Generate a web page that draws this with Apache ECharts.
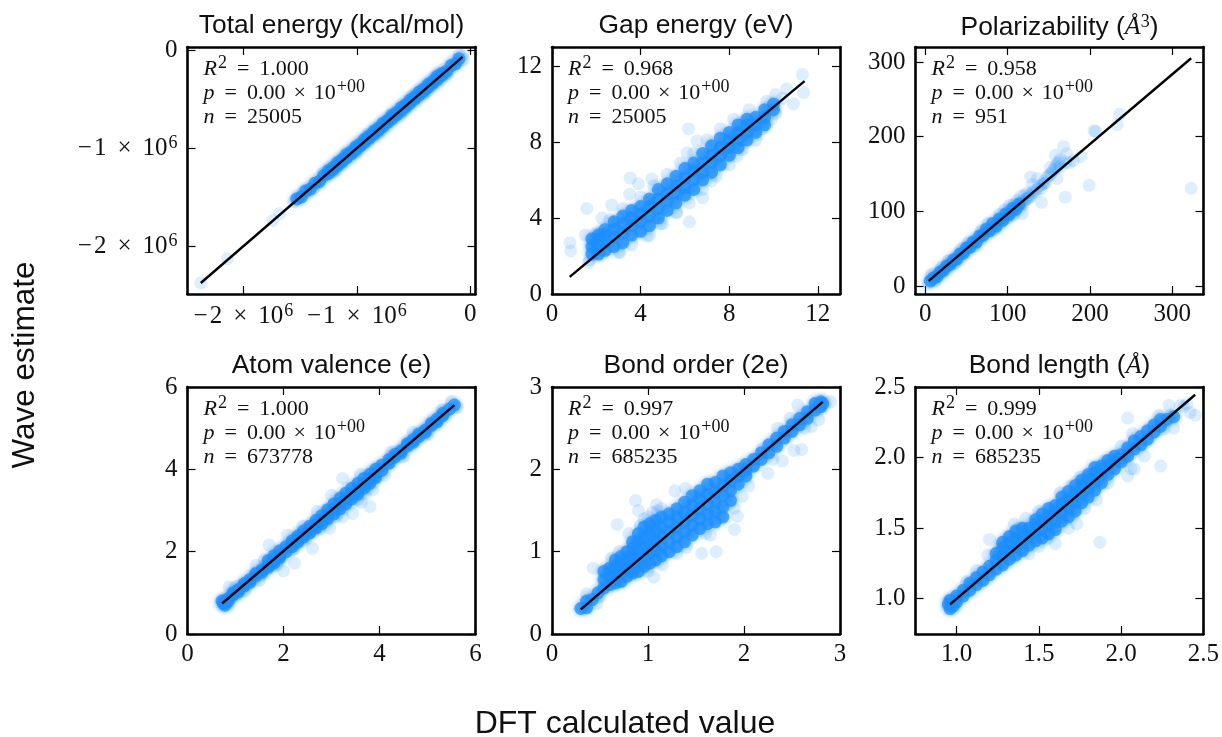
<!DOCTYPE html>
<html><head><meta charset="utf-8">
<style>html,body{margin:0;padding:0;background:#fff}#c{width:1222px;height:737px}</style>
<script src="https://cdn.jsdelivr.net/npm/echarts@6/dist/echarts.min.js"></script>
</head><body><div id="c"></div>
<script>
// Values. Dense rows: [x, y1, y2, ...]; sparse: [x, y]
const energyFit = [[-2.376,-2.378],[-0.068,-0.07]];
const energyDense = [[-1.53,-1.52],[-1.49,-1.5],[-1.45,-1.44],[-1.41,-1.42],[-1.37,-1.36],[-1.33,-1.34],[-1.29,-1.28],[-1.25,-1.26,-1.23],[-1.21,-1.2,-1.22],[-1.17,-1.18,-1.15],[-1.13,-1.12,-1.14],[-1.09,-1.1,-1.07],[-1.05,-1.04,-1.06],[-1.01,-1.02,-0.99],[-0.97,-0.96,-0.98],[-0.93,-0.94,-0.91],[-0.89,-0.88,-0.9],[-0.85,-0.86,-0.83],[-0.81,-0.8,-0.82],[-0.77,-0.78,-0.75],[-0.73,-0.72,-0.74],[-0.69,-0.7,-0.67],[-0.65,-0.64,-0.66],[-0.61,-0.62,-0.59],[-0.57,-0.56,-0.58],[-0.53,-0.54,-0.51],[-0.49,-0.48,-0.5],[-0.45,-0.46,-0.43],[-0.41,-0.4,-0.42],[-0.37,-0.38,-0.35],[-0.33,-0.32,-0.34],[-0.29,-0.3,-0.27],[-0.25,-0.24,-0.26],[-0.21,-0.22],[-0.17,-0.16],[-0.13,-0.14],[-0.1,-0.09]];
const energySparse = [[-2.376,-2.378],[-2.14,-2.13],[-1.74,-1.74],[-1.68,-1.67],[-1.52,-1.51],[-1.56,-1.55],[-1.47,-1.44],[-1.38,-1.41],[-1.3,-1.26],[-1.2,-1.24],[-1.1,-1.06],[-1.0,-1.04],[-0.9,-0.86],[-0.8,-0.84],[-0.7,-0.66],[-0.6,-0.64],[-0.5,-0.46],[-0.4,-0.44],[-0.3,-0.26],[-0.2,-0.24],[-0.1,-0.05],[-0.06,-0.1],[-0.07,-0.06]];

const gapFit = [[0.8,0.9],[11.4,11.2]];
const gapDense = [[1.8,2.1,2.5,2.9],[2.1,2.1,2.5,2.9,3.1],[2.4,2.3,2.7,3.1,3.4],[2.8,2.5,3.0,3.4,3.8],[3.2,2.7,3.2,3.7,4.1],[3.6,3.1,3.6,4.0,4.4],[4.0,3.3,3.8,4.2,4.6],[4.4,3.6,4.1,4.6,5.0],[4.8,4.0,4.5,5.0,5.5],[5.2,4.4,4.9,5.3,5.8],[5.6,4.8,5.3,5.7,6.2],[6.0,5.2,5.6,6.1,6.6],[6.4,5.5,6.0,6.5,6.9],[6.8,6.0,6.4,6.9,7.4],[7.2,6.4,6.9,7.3,7.8],[7.6,6.8,7.3,7.7,8.2],[8.0,7.3,7.7,8.1,8.5],[8.4,7.7,8.1,8.5,8.9],[8.8,8.1,8.5,8.9,9.2],[9.2,8.5,8.9,9.3],[9.6,8.9,9.3,9.7],[10,9.7,10.0]];
const gapSparse = [[0.81,2.7],[0.84,2.26],[1.5,3.1],[1.57,4.5],[2.7,4.68],[2.25,4.0],[3.53,6.1],[3.9,5.8],[3.5,5.25],[4.5,6.05],[6.16,8.7],[6.55,8.05],[6.1,7.44],[6.2,3.8],[6.8,5.07],[5.64,4.28],[4.9,3.7],[4.3,3.05],[3.07,2.17],[1.64,1.65],[11.3,11.55],[11.36,10.6],[10.9,10],[10.6,10.8],[10.1,10.5],[9.7,10.15],[10.1,9.5],[9.5,8.7],[8.35,7.26],[7.2,5.95],[2.6,3.9],[3.2,4.5],[4,5.1],[4.6,5.7],[5.2,6.3],[5.8,6.9],[6.4,7.4],[7,8.1],[7.6,8.7],[8.2,9.2],[8.9,9.7],[3,2.2],[3.6,2.6],[4.4,3.1],[5,3.7],[5.6,4.3],[6.2,4.8],[6.8,5.5],[7.4,6.2],[8,6.8],[8.6,7.6],[9.2,8.1],[2,3.2],[1.7,1.8],[10.4,10.3],[9.9,9.2]];

const polarFit = [[4,7],[323,305]];
const polarDense = [[6,7],[10,11],[14,13],[18,19],[22,21],[26,27],[30,29],[34,35],[38,36],[42,43],[46,44],[50,51],[54,52],[58,59],[62,59],[66,67],[70,68],[74,76],[78,74],[82,84],[86,80],[90,90],[94,88],[98,97],[102,96],[106,104],[110,103],[114,110]];
const polarSparse = [[128,146],[168,187],[158,175],[172,177],[189,173.6],[180,168],[160,164],[152,159],[160,144],[144,137],[136,144],[199,135],[170,119],[141,112],[118,97],[107,95],[205,208],[207,207],[233,216],[236,230],[323,131],[120,122],[124,125],[128,120],[132,128],[136,130],[140,130],[144,140],[148,146],[152,150],[156,156],[160,158],[164,160],[164,170],[170,165],[175,165],[118,112],[122,116],[116,120],[126,118],[130,136],[112,115],[108,110],[102,108],[96,102],[100,92],[90,96],[84,76],[76,84],[68,74],[60,54],[52,58],[44,50],[36,30],[28,34],[20,25],[12,7],[8,16],[4,4],[115,108],[118,114],[120,110],[124,118],[126,122],[130,125],[134,126],[138,134],[142,136],[146,138],[150,148],[154,152],[158,160],[162,166]];

const atomFit = [[0.72,0.74],[5.56,5.56]];
const atomDense = [[0.72,0.8],[0.75,0.75],[0.78,0.7],[0.85,0.86,0.8],[0.95,0.95,1.0],[1.06,1.08,1.02],[1.18,1.17,1.22],[1.3,1.32,1.26],[1.42,1.41,1.47],[1.55,1.56,1.5],[1.68,1.62,1.67,1.78],[1.8,1.72,1.78,1.9],[1.92,1.85,1.9,2.02],[2.05,2.0,2.12],[2.18,2.12,2.18,2.26],[2.3,2.24,2.3,2.38],[2.42,2.36,2.42,2.5],[2.55,2.46,2.54,2.62],[2.68,2.58,2.66,2.76],[2.8,2.68,2.77,2.87],[2.92,2.8,2.9,3.02],[3.05,2.92,3.04,3.16],[3.18,3.04,3.17,3.3],[3.3,3.16,3.28,3.42],[3.42,3.28,3.4,3.54],[3.55,3.4,3.52,3.66],[3.68,3.54,3.66,3.78],[3.8,3.66,3.78,3.88],[3.92,3.8,3.9,4.0],[4.05,3.98,4.1],[4.2,4.15,4.24],[4.32,4.3,4.36],[4.45,4.45,4.4],[4.58,4.57,4.62],[4.7,4.72,4.66],[4.82,4.8,4.86],[4.95,4.95,4.9],[5.08,5.07,5.12],[5.2,5.22,5.16],[5.32,5.31,5.36],[5.45,5.46],[5.56,5.56]];
const atomSparse = [[3.8,3.1],[3.62,3.2],[3.44,2.93],[3.23,2.85],[2.96,2.57],[2.6,2.08],[2.23,1.72],[2,1.53],[1.5,1.3],[1.7,2.16],[2.08,2.4],[1.43,1.67],[3.23,3.78],[3,3.37],[3.86,3.5],[0.87,1.15],[1.0,1.15],[1.2,1.05],[1.55,1.45],[1.85,1.68],[2.2,2.05],[2.45,2.3],[2.75,2.55],[3.1,2.85],[3.55,3.25],[3.7,3.4],[4.1,3.85],[4.5,4.3],[5.0,4.85],[5.3,5.45],[4.7,4.9],[4.25,4.42],[3.6,3.88],[2.7,2.98],[2.4,2.62],[1.6,1.8],[5.5,5.65],[5.62,5.5]];

const bondFit = [[0.3,0.3],[2.82,2.82]];
const bondDense = [[0.30,0.31],[0.36,0.32,0.40],[0.42,0.42],[0.48,0.50],[0.54,0.56,0.66,0.76],[0.60,0.60,0.70,0.80],[0.66,0.62,0.72,0.82,0.90],[0.72,0.64,0.74,0.84,0.94],[0.78,0.70,0.80,0.90,1.0],[0.84,0.74,0.84,0.94,1.04,1.12],[0.90,0.76,0.88,1.0,1.12,1.22],[0.96,0.82,0.94,1.06,1.18,1.30],[1.02,0.86,0.98,1.10,1.22,1.34],[1.08,0.90,1.02,1.14,1.26,1.38],[1.14,0.95,1.06,1.18,1.3,1.42],[1.22,1.0,1.12,1.24,1.36,1.46],[1.30,1.06,1.18,1.3,1.42,1.52],[1.38,1.12,1.24,1.36,1.48,1.6],[1.46,1.2,1.32,1.44,1.56,1.68],[1.54,1.28,1.4,1.52,1.64,1.74],[1.62,1.34,1.46,1.58,1.7,1.82],[1.70,1.36,1.48,1.6,1.72,1.84],[1.78,1.42,1.54,1.68,1.8,1.92],[1.86,1.62,1.74,1.86,1.96],[1.94,1.82,1.92,2.0],[2.02,1.92,2.0,2.06],[2.10,2.04,2.12],[2.18,2.12,2.2],[2.26,2.2,2.3],[2.34,2.28,2.38],[2.42,2.38,2.46],[2.50,2.46,2.54],[2.58,2.54,2.62],[2.66,2.62,2.7],[2.74,2.72,2.8],[2.80,2.76,2.82],[2.82,2.80]];
const bondSparse = [[0.43,0.8],[0.87,1.62],[0.9,1.5],[0.68,1.33],[0.8,1.22],[1.28,1.74],[1.39,1.77],[1.09,1.57],[1.56,0.98],[1.71,1.0],[1.06,0.69],[1.3,0.98],[1.98,1.67],[1.93,1.43],[1.9,1.27],[1.9,1.53],[1.65,1.2],[2.25,1.95],[2.4,2.1],[2.52,2.23],[2.6,2.24],[2.56,2.78],[2.78,2.6],[2.63,2.5],[2.19,2.25],[0.47,0.37],[0.36,0.49],[0.5,0.45],[0.62,0.92],[0.7,1.0],[1.0,0.76],[1.15,0.84],[1.4,1.05],[1.6,1.22],[2.05,1.8],[2.3,2.12],[2.7,2.52],[2.35,2.5],[2.48,2.62],[2.9,2.82],[0.96,1.4],[1.05,1.48],[1.14,1.52],[0.92,1.32],[1.0,1.42],[1.1,1.5]];

const lengthFit = [[0.96,0.96],[2.45,2.445]];
const lengthDense = [[0.95,0.96],[0.96,0.99,0.93],[0.98,0.95],[1.0,0.98,1.02],[1.04,1.02,1.06],[1.08,1.06,1.11],[1.12,1.1,1.15],[1.16,1.13,1.19],[1.2,1.17,1.23],[1.24,1.21,1.27,1.32],[1.28,1.24,1.3,1.36,1.4],[1.32,1.28,1.34,1.4,1.44],[1.36,1.31,1.37,1.43,1.48],[1.4,1.34,1.4,1.46,1.5],[1.44,1.38,1.44,1.5],[1.48,1.41,1.47,1.53,1.56],[1.52,1.43,1.49,1.55,1.6],[1.56,1.46,1.52,1.58,1.64],[1.6,1.49,1.55,1.61,1.66],[1.64,1.55,1.61,1.67,1.72],[1.68,1.58,1.64,1.7,1.76],[1.72,1.62,1.68,1.74,1.8],[1.76,1.68,1.74,1.8,1.84],[1.8,1.72,1.78,1.84,1.88],[1.84,1.77,1.83,1.89,1.93],[1.88,1.82,1.88,1.94],[1.92,1.88,1.94,1.98],[1.96,1.92,1.98,2.01],[2.0,1.97,2.02],[2.04,2.01,2.07],[2.08,2.06,2.12],[2.12,2.09,2.15],[2.16,2.13,2.19],[2.2,2.18,2.23],[2.24,2.22,2.27],[2.28,2.27],[2.32,2.29]];
const lengthSparse = [[2.04,2.28],[2.24,1.94],[1.87,1.4],[1.2,1.42],[2.45,2.3],[2.29,2.37],[2.38,2.36],[2.36,2.37],[2.32,2.21],[2.23,2.3],[2.07,2.17],[2.08,1.92],[2.04,1.87],[2.14,2.01],[1.6,1.39],[1.44,1.32],[1.35,1.53],[1.63,1.75],[1.73,1.53],[1.78,1.64],[1.19,1.31],[1.12,1.2],[1.06,1.12],[1.42,1.57],[1.7,1.8],[2.02,2.0],[2.06,1.92],[1.3,1.26],[1.5,1.37],[1.55,1.42],[1.68,1.5],[1.85,1.7],[1.92,1.82],[2.42,2.32],[2.4,2.38],[2.3,2.3],[2.26,2.2],[1.26,1.36],[1.38,1.5],[1.5,1.62],[1.75,1.86],[1.9,1.98],[2.0,2.08]];

const titles = ['Total energy (kcal/mol)','Gap energy (eV)','Polarizability ({ai|Å}{as|3})','Atom valence (e)','Bond order (2e)','Bond length ({ai|Å})'];
const r2Labels = ['1.000','0.968','0.958','1.000','0.997','0.999'];
const nLabels = ['25005','25005','951','673778','685235','685235'];
const pLabel = '0.00';
const pExp = '+00';
const xRanges = [[-2.493,0.046],[0,13],[-12,338],[0,6],[0,3],[0.75,2.5]];
const yRanges = [[-2.49,0.03],[0,13],[-10.5,320],[0,6],[0,3],[0.75,2.5]];
const xTicks = [[-2,-1,0],[0,4,8,12],[0,100,200,300],[0,2,4,6],[0,1,2,3],[1,1.5,2,2.5]];
const yTicks = [[-2,-1,0],[0,4,8,12],[0,100,200,300],[0,2,4,6],[0,1,2,3],[1,1.5,2,2.5]];
const xFmt = [sci,String,String,String,String,v=>v.toFixed(1)];
const yFmt = [sci,String,String,String,String,v=>v.toFixed(1)];
const fits = [energyFit,gapFit,polarFit,atomFit,bondFit,lengthFit];
const denses = [energyDense,gapDense,polarDense,atomDense,bondDense,lengthDense];
const sparses = [energySparse,gapSparse,polarSparse,atomSparse,bondSparse,lengthSparse];
const xLabel = 'DFT calculated value';
const yLabel = 'Wave estimate';

function sci(v){ return v===0 ? '0' : '{m|\u2212}'+Math.abs(v)+'{x|×}10{s|6}'; }
const flat = rows => rows.flatMap(r => r.slice(1).map(y => [r[0], y]));

const SERIF = '"Liberation Serif", serif', SANS = '"Liberation Sans", sans-serif';
const colLeft = [187.5,552,915.5], rowTop = [47,387], W = 288, H = 247;
const grid=[],xAxis=[],yAxis=[],series=[],title=[];
const richTick = {
  s:{fontFamily:SERIF,fontSize:18,color:'#111',verticalAlign:'bottom',padding:[0,0,10,1]},
  m:{fontFamily:SERIF,fontSize:25,color:'#111',padding:[0,2,0,0]},
  x:{fontFamily:SERIF,fontSize:25,color:'#111',padding:[0,11,0,11]}
};
function axis(kind,pos,p,ticks,range,fmt){
  const main = pos==='bottom'||pos==='left';
  return {type:'value',gridIndex:p,position:pos,min:range[0],max:range[1],
    axisLine:{show:true,onZero:false,lineStyle:{color:'#000',width:2.6}},
    axisTick:{show:true,inside:true,length:8,customValues:ticks,lineStyle:{color:'#000',width:1.2}},
    splitLine:{show:false},minorTick:{show:false},
    axisLabel:main?{show:true,customValues:ticks,formatter:fmt,fontFamily:SERIF,fontSize:25,color:'#111',margin:kind==='x'?8:10,rich:richTick,hideOverlap:false,showMinLabel:true,showMaxLabel:true}:{show:false}};
}
const noteRich = {
  i:{fontFamily:SERIF,fontStyle:'italic',fontSize:22,color:'#111',lineHeight:24},
  n:{fontFamily:SERIF,fontSize:22,color:'#111',lineHeight:24},
  e:{fontFamily:SERIF,fontSize:22,color:'#111',lineHeight:24,padding:[0,10,0,10]},
  x:{fontFamily:SERIF,fontSize:22,color:'#111',lineHeight:24,padding:[0,8,0,8]},
  s:{fontFamily:SERIF,fontSize:18,color:'#111',lineHeight:24,verticalAlign:'bottom',padding:[0,0,9,1]}
};
for(let p=0;p<6;p++){
  const c=p%3,r=Math.floor(p/3),L=colLeft[c],T=rowTop[r];
  grid.push({left:L,top:T,width:W,height:H,show:false});
  xAxis.push(axis('x','bottom',p,xTicks[p],xRanges[p],xFmt[p]),axis('x','top',p,xTicks[p],xRanges[p],xFmt[p]));
  yAxis.push(axis('y','left',p,yTicks[p],yRanges[p],yFmt[p]),axis('y','right',p,yTicks[p],yRanges[p],yFmt[p]));
  const xi=p*2,yi=p*2;
  const ms={color:'#1E90FF'};
  series.push({type:'scatter',silent:true,xAxisIndex:xi,yAxisIndex:yi,symbolSize:13,data:sparses[p],itemStyle:{...ms,opacity:0.15},z:2});
  series.push({type:'scatter',silent:true,xAxisIndex:xi,yAxisIndex:yi,symbolSize:13,data:flat(denses[p]),itemStyle:{...ms,opacity:0.72,shadowBlur:5,shadowColor:'rgba(30,144,255,0.8)'},z:3});
  series.push({type:'line',silent:true,xAxisIndex:xi,yAxisIndex:yi,data:fits[p],symbol:'none',lineStyle:{color:'#000',width:2.4},z:4});
  title.push({text:titles[p],left:L+W/2,top:T-34,padding:0,textAlign:'center',textStyle:{fontFamily:SANS,fontSize:26.4,fontWeight:'normal',color:'#111',
    rich:{ai:{fontFamily:SERIF,fontStyle:'italic',fontSize:26,color:'#111'},as:{fontFamily:SERIF,fontSize:18,color:'#111',verticalAlign:'bottom',padding:[0,0,11,0]}}}});
  title.push({text:'{i|R}{s|2}{e|=}{n|'+r2Labels[p]+'}\n{i|p}{e|=}{n|'+pLabel+'}{x|×}{n|10}{s|'+pExp+'}\n{i|n}{e|=}{n|'+nLabels[p]+'}',left:L+16,top:T+10,padding:0,
    textStyle:{fontFamily:SERIF,fontSize:22,color:'#111',fontWeight:'normal',lineHeight:24,rich:noteRich}});
}
title.push({text:xLabel,left:625,top:708,padding:0,textAlign:'center',textStyle:{fontFamily:SANS,fontSize:32,fontWeight:'normal',color:'#111'}});
const chart=echarts.init(document.getElementById('c'),null,{renderer:'canvas'});
chart.setOption({animation:false,backgroundColor:'#fff',grid,xAxis,yAxis,series,title,
  graphic:[{type:'text',rotation:Math.PI/2,x:25,y:365,style:{text:yLabel,font:'31.5px '+SANS,fill:'#111',textAlign:'center',textVerticalAlign:'middle'}}]});
</script></body></html>
